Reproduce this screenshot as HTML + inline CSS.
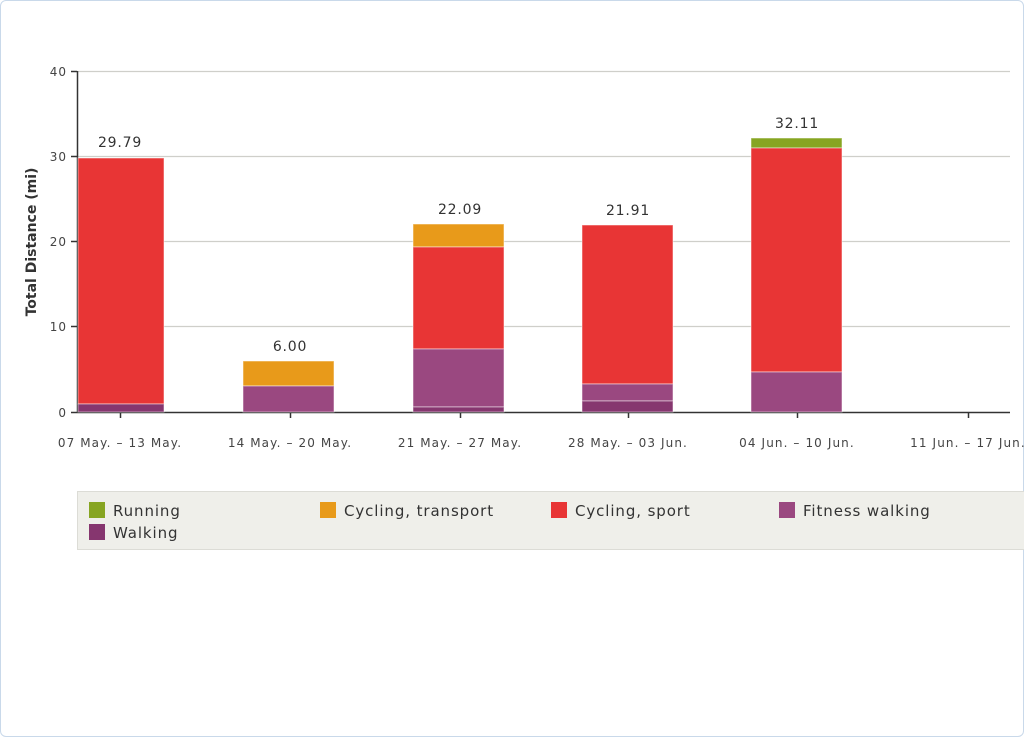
<!DOCTYPE html>
<html><head><style>
html,body{margin:0;padding:0;background:#fff;}
body{width:1024px;height:737px;overflow:hidden;position:relative;}
.card{position:absolute;left:0;top:0;width:1022px;height:735px;border:1px solid #c9d9ea;border-radius:6px;background:#fff;}
svg{position:absolute;left:0;top:0;font-family:"DejaVu Sans","Liberation Sans",sans-serif;}
</style></head><body>
<div class="card"></div>
<svg width="1024" height="737" viewBox="0 0 1024 737">
<g stroke="#cfcfca" stroke-width="1.3">
<line x1="77" y1="71.5" x2="1010" y2="71.5"/>
<line x1="77" y1="156.5" x2="1010" y2="156.5"/>
<line x1="77" y1="241.5" x2="1010" y2="241.5"/>
<line x1="77" y1="326.5" x2="1010" y2="326.5"/>
</g>
<g stroke="#333" stroke-width="1.5">
<line x1="77.5" y1="71" x2="77.5" y2="412"/>
<line x1="77" y1="412.5" x2="1010" y2="412.5"/>
<line x1="71" y1="71.5" x2="77" y2="71.5"/>
<line x1="71" y1="156.5" x2="77" y2="156.5"/>
<line x1="71" y1="241.5" x2="77" y2="241.5"/>
<line x1="71" y1="326.5" x2="77" y2="326.5"/>
<line x1="71" y1="412.5" x2="77" y2="412.5"/>
<line x1="120.5" y1="412" x2="120.5" y2="418"/>
<line x1="290.5" y1="412" x2="290.5" y2="418"/>
<line x1="460.5" y1="412" x2="460.5" y2="418"/>
<line x1="628.5" y1="412" x2="628.5" y2="418"/>
<line x1="797.5" y1="412" x2="797.5" y2="418"/>
<line x1="968.5" y1="412" x2="968.5" y2="418"/>
</g>
<g font-size="12" fill="#444" text-anchor="end" letter-spacing="1">
<text x="67" y="76">40</text><text x="67" y="161">30</text><text x="67" y="246">20</text><text x="67" y="331">10</text><text x="67" y="417">0</text>
</g>
<text transform="translate(36,242) rotate(-90)" text-anchor="middle" font-size="14" font-weight="bold" fill="#333">Total Distance (mi)</text>
<g font-size="12" fill="#444" text-anchor="middle" letter-spacing="1.1">
<text x="120" y="447">07 May. – 13 May.</text>
<text x="290" y="447">14 May. – 20 May.</text>
<text x="460" y="447">21 May. – 27 May.</text>
<text x="628" y="447">28 May. – 03 Jun.</text>
<text x="797" y="447">04 Jun. – 10 Jun.</text>
<text x="968" y="447">11 Jun. – 17 Jun.</text>
</g>
<g stroke="#fff" stroke-opacity="0.5" stroke-width="1">
<rect x="78" y="158" width="86" height="246" fill="#e83535"/>
<rect x="78" y="404" width="86" height="8" fill="#86366f"/>
<rect x="243" y="361" width="91" height="25" fill="#e89a1a"/>
<rect x="243" y="386" width="91" height="26" fill="#9a4880"/>
<rect x="413" y="224" width="91" height="23" fill="#e89a1a"/>
<rect x="413" y="247" width="91" height="102" fill="#e83535"/>
<rect x="413" y="349" width="91" height="58" fill="#9a4880"/>
<rect x="413" y="407" width="91" height="5" fill="#86366f"/>
<rect x="582" y="225" width="91" height="159" fill="#e83535"/>
<rect x="582" y="384" width="91" height="17" fill="#9a4880"/>
<rect x="582" y="401" width="91" height="11" fill="#86366f"/>
<rect x="751" y="138" width="91" height="10" fill="#87a522"/>
<rect x="751" y="148" width="91" height="224" fill="#e83535"/>
<rect x="751" y="372" width="91" height="40" fill="#9a4880"/>
</g>
<g font-size="14" fill="#333" text-anchor="middle" letter-spacing="0.8">
<text x="120" y="147">29.79</text>
<text x="290" y="351">6.00</text>
<text x="460" y="214">22.09</text>
<text x="628" y="215">21.91</text>
<text x="797" y="128">32.11</text>
</g>
<rect x="77.5" y="491.5" width="950" height="58" fill="#efefea" stroke="#dcdcd6"/>
<g font-size="15" fill="#333" letter-spacing="0.9">
<rect x="89" y="502" width="16" height="16" fill="#87a522"/><text x="113" y="516">Running</text>
<rect x="320" y="502" width="16" height="16" fill="#e89a1a"/><text x="344" y="516">Cycling, transport</text>
<rect x="551" y="502" width="16" height="16" fill="#e83535"/><text x="575" y="516">Cycling, sport</text>
<rect x="779" y="502" width="16" height="16" fill="#9a4880"/><text x="803" y="516">Fitness walking</text>
<rect x="89" y="524" width="16" height="16" fill="#86366f"/><text x="113" y="538">Walking</text>
</g>
</svg>
</body></html>
